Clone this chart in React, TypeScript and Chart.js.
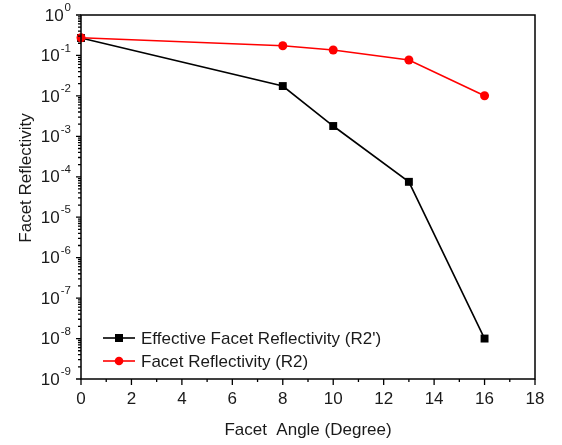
import React, { useEffect, useRef } from "react";
import { Chart, registerables } from "chart.js";

Chart.register(...registerables);

const angles = [0, 8, 10, 13, 16];
const effectiveReflectivity = [0.27, 0.0175, 0.0018, 7.5e-5, 1e-8];
const facetReflectivity = [0.274, 0.174, 0.136, 0.077, 0.0101];
const seriesLabels = ["Effective Facet Reflectivity (R2')", "Facet Reflectivity (R2)"];
const xTickValues = [0, 2, 4, 6, 8, 10, 12, 14, 16, 18];
const yExponents = [0, -1, -2, -3, -4, -5, -6, -7, -8, -9];
const xTitle = "Facet  Angle (Degree)";
const yTitle = "Facet Reflectivity";

const FONT = '"Liberation Sans", Arial, sans-serif';
const TEXT = "#1a1a1a";

const decorPlugin = {
  id: "decor",
  afterDraw(chart: any) {
    const { ctx, chartArea: a, scales } = chart;
    const xs = scales.x;
    const ys = scales.y;
    ctx.save();
    // frame
    ctx.strokeStyle = "#000";
    ctx.lineWidth = 1.5;
    ctx.strokeRect(a.left, a.top, a.right - a.left, a.bottom - a.top);
    // x ticks
    ctx.beginPath();
    ctx.lineWidth = 1.3;
    const xMax = xTickValues[xTickValues.length - 1];
    for (let v = xTickValues[0]; v <= xMax; v += 1) {
      const px = xs.getPixelForValue(v);
      const len = xTickValues.includes(v) ? 6 : 3;
      ctx.moveTo(px, a.bottom);
      ctx.lineTo(px, a.bottom + len);
    }
    // y ticks
    for (const e of yExponents) {
      const py = ys.getPixelForValue(Math.pow(10, e));
      ctx.moveTo(a.left, py);
      ctx.lineTo(a.left - 5, py);
      if (e < 0) {
        for (let m = 2; m <= 9; m++) {
          const pm = ys.getPixelForValue(m * Math.pow(10, e));
          ctx.moveTo(a.left, pm);
          ctx.lineTo(a.left - 3, pm);
        }
      }
    }
    ctx.stroke();

    // y tick labels with superscripts
    ctx.fillStyle = TEXT;
    ctx.textBaseline = "middle";
    const rightEdge = a.left - 10;
    for (const e of yExponents) {
      const py = ys.getPixelForValue(Math.pow(10, e));
      ctx.font = `11.5px ${FONT}`;
      const sup = String(e);
      const supW = ctx.measureText(sup).width;
      ctx.textAlign = "left";
      ctx.fillText(sup, rightEdge - supW, py - 7);
      ctx.font = `17px ${FONT}`;
      ctx.textAlign = "right";
      ctx.fillText("10", rightEdge - supW - 1, py + 1);
    }

    // y title
    ctx.save();
    ctx.translate(26, 178);
    ctx.rotate(-Math.PI / 2);
    ctx.textAlign = "center";
    ctx.textBaseline = "middle";
    ctx.font = `17px ${FONT}`;
    ctx.fillText(yTitle, 0, 0);
    ctx.restore();

    // legend
    const rows = [
      { y: 338, color: "#000", style: "rect" },
      { y: 361, color: "#ff0000", style: "circle" },
    ];
    rows.forEach((r, i) => {
      ctx.strokeStyle = r.color;
      ctx.fillStyle = r.color;
      ctx.lineWidth = 1.6;
      ctx.beginPath();
      ctx.moveTo(103, r.y);
      ctx.lineTo(135, r.y);
      ctx.stroke();
      if (r.style === "rect") {
        ctx.fillRect(119 - 4, r.y - 4, 8, 8);
      } else {
        ctx.beginPath();
        ctx.arc(119, r.y, 4.3, 0, Math.PI * 2);
        ctx.fill();
      }
      ctx.fillStyle = TEXT;
      ctx.font = `17px ${FONT}`;
      ctx.textAlign = "left";
      ctx.textBaseline = "middle";
      ctx.fillText(seriesLabels[i], 141, r.y + 1);
    });
    ctx.restore();
  },
};

export default function App() {
  const ref = useRef<HTMLCanvasElement | null>(null);
  useEffect(() => {
    if (!ref.current) return;
    const chart = new Chart(ref.current, {
      type: "line",
      data: {
        datasets: [
          {
            label: seriesLabels[0],
            data: angles.map((a, i) => ({ x: a, y: effectiveReflectivity[i] })),
            borderColor: "#000",
            backgroundColor: "#000",
            borderWidth: 1.6,
            pointStyle: "rect",
            pointRadius: 5.6,
            pointBorderWidth: 0,
            clip: false,
            order: 2,
          } as any,
          {
            label: seriesLabels[1],
            data: angles.map((a, i) => ({ x: a, y: facetReflectivity[i] })),
            borderColor: "#ff0000",
            backgroundColor: "#ff0000",
            borderWidth: 1.6,
            pointStyle: "circle",
            pointRadius: 4.5,
            pointBorderWidth: 0,
            clip: false,
            order: 1,
          } as any,
        ],
      },
      options: {
        responsive: false,
        animation: false,
        layout: { padding: { top: 15, right: 27, left: 0, bottom: 0 } },
        plugins: { legend: { display: false }, tooltip: { enabled: false } },
        scales: {
          x: {
            type: "linear",
            min: 0,
            max: 18,
            ticks: {
              stepSize: 2,
              color: TEXT,
              padding: 10,
              font: { family: FONT, size: 17 },
            },
            grid: { display: false, drawTicks: false },
            border: { display: false },
            title: {
              display: true,
              text: xTitle,
              color: TEXT,
              font: { family: FONT, size: 17 },
              padding: { top: 0, bottom: 4 },
            },
            afterFit(s: any) {
              s.height = 66;
            },
          },
          y: {
            type: "logarithmic",
            min: 1e-9,
            max: 1,
            ticks: { display: false },
            grid: { display: false, drawTicks: false },
            border: { display: false },
            afterFit(s: any) {
              s.width = 81;
            },
          },
        },
      } as any,
      plugins: [decorPlugin],
    });
    return () => chart.destroy();
  }, []);
  return (
    <div style={{ position: "fixed", left: 0, top: 0, width: 562, height: 445, background: "#fff" }}>
      <canvas ref={ref} width={562} height={445} />
    </div>
  );
}
